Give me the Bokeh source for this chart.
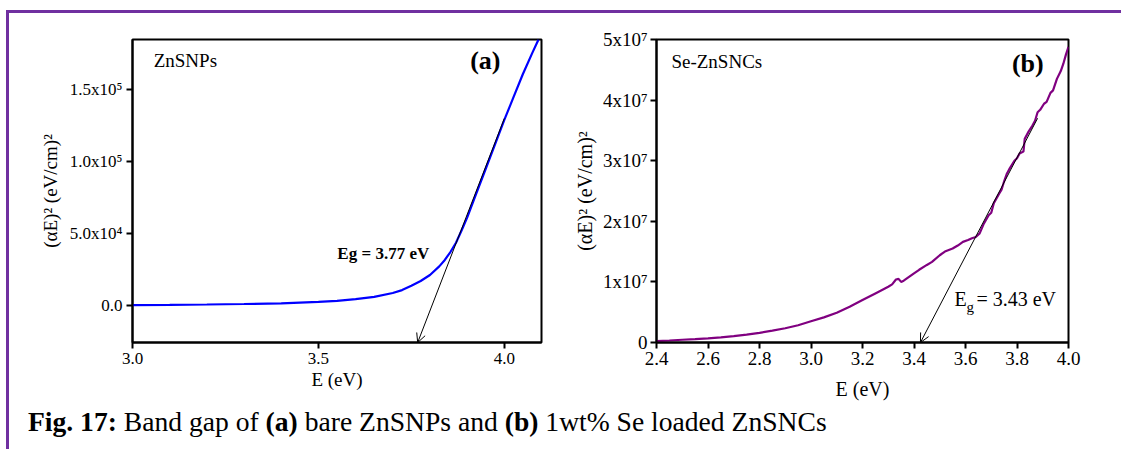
from bokeh.plotting import figure
from bokeh.models import FixedTicker, Label, Arrow, OpenHead, Div, Range1d, PrintfTickFormatter
from bokeh.layouts import row, column
from bokeh.embed import file_html
from bokeh.resources import INLINE

FONT = "Liberation Serif"
PURPLE_FRAME = "#7030A0"

# ---------------- data: panel (a) bare ZnSNPs ----------------
energy_a = [3.00, 3.10, 3.20, 3.30, 3.40, 3.50, 3.55, 3.60, 3.65, 3.70, 3.725, 3.75,
            3.775, 3.80, 3.825, 3.84, 3.855, 3.87, 3.885, 3.90, 3.925, 3.95, 3.975,
            4.00, 4.025, 4.05, 4.075, 4.092]
ahv2_a = [0, 200, 450, 800, 1300, 2300, 3000, 4200, 5800, 8500, 10500, 13500,
          16800, 21000, 27000, 31500, 37000, 43500, 52000, 61000, 78000, 95000, 112000,
          129000, 145000, 161000, 175500, 185000]
tangent_a_E = [3.767, 4.0]
tangent_a_y = [-26000, 130000]
xticks_a = [3.0, 3.5, 4.0]
yticks_a = [0, 50000, 100000, 150000]
ytick_labels_a = ["0.0", "5.0x10\u2074", "1.0x10\u2075", "1.5x10\u2075"]

# ---------------- data: panel (b) Se-ZnSNCs ----------------
energy_b = [2.40, 2.45, 2.50, 2.55, 2.60, 2.65, 2.70, 2.75, 2.80, 2.85, 2.90, 2.95,
            3.00, 3.05, 3.10, 3.15, 3.20, 3.25, 3.30, 3.315, 3.33, 3.34, 3.35, 3.36,
            3.40, 3.42, 3.45, 3.47, 3.50, 3.52, 3.55, 3.57, 3.59, 3.61, 3.625, 3.64,
            3.655, 3.67, 3.69, 3.70, 3.71, 3.73, 3.74, 3.75, 3.76, 3.77, 3.79, 3.80,
            3.81, 3.825, 3.83, 3.845, 3.86, 3.87, 3.88, 3.89, 3.905, 3.915, 3.93,
            3.94, 3.955, 3.97, 3.98, 3.99, 4.00]
ahv2_b = [0.22e6, 0.33e6, 0.45e6, 0.56e6, 0.68e6, 0.85e6, 1.05e6, 1.30e6, 1.60e6,
          1.95e6, 2.35e6, 2.85e6, 3.50e6, 4.15e6, 4.90e6, 5.90e6, 7.00e6, 8.10e6,
          9.20e6, 9.60e6, 1.04e7, 1.05e7, 1.00e7, 1.02e7, 1.14e7, 1.20e7, 1.28e7,
          1.33e7, 1.44e7, 1.50e7, 1.55e7, 1.60e7, 1.66e7, 1.69e7, 1.72e7, 1.74e7,
          1.80e7, 1.95e7, 2.10e7, 2.14e7, 2.30e7, 2.45e7, 2.52e7, 2.66e7, 2.78e7,
          2.86e7, 3.00e7, 3.04e7, 3.12e7, 3.15e7, 3.36e7, 3.48e7, 3.58e7, 3.66e7,
          3.80e7, 3.84e7, 3.94e7, 3.97e7, 4.12e7, 4.16e7, 4.35e7, 4.48e7, 4.60e7,
          4.75e7, 4.88e7]
tangent_b_E = [3.425, 3.88]
tangent_b_y = [0, 3.70e7]
xticks_b = [2.4, 2.6, 2.8, 3.0, 3.2, 3.4, 3.6, 3.8, 4.0]
yticks_b = [0, 1e7, 2e7, 3e7, 4e7, 5e7]
ytick_labels_b = ["0", "1x10\u2077", "2x10\u2077", "3x10\u2077", "4x10\u2077", "5x10\u2077"]


def style_axes(p, tick_size, label_size):
    p.xgrid.visible = False
    p.ygrid.visible = False
    p.outline_line_color = "black"
    p.outline_line_width = 2
    p.outline_line_alpha = 1
    p.background_fill_color = "white"
    p.border_fill_color = "white"
    for ax in (p.xaxis[0], p.yaxis[0]):
        ax.axis_line_width = 2
        ax.axis_line_color = "black"
        ax.major_tick_line_width = 2
        ax.major_tick_out = 6
        ax.major_tick_in = 0
        ax.minor_tick_out = 0
        ax.minor_tick_in = 0
        ax.major_label_text_font = FONT
        ax.major_label_text_font_size = tick_size
        ax.major_label_text_color = "black"
        ax.axis_label_text_font = FONT
        ax.axis_label_text_font_size = label_size
        ax.axis_label_text_font_style = "normal"
        ax.axis_label_text_color = "black"


def text_label(p, x, y, text, size, bold=False, align="left", **kw):
    p.add_layout(Label(x=x, y=y, text=text, text_font=FONT, text_font_size=size,
                       text_font_style="bold" if bold else "normal",
                       text_color="black", text_baseline="middle",
                       text_align=align, **kw))


# ---------------- panel (a) ----------------
pa = figure(width=561, height=395, title=None,
            x_range=Range1d(3.0, 4.1), y_range=Range1d(-26000, 185000),
            output_backend="svg", toolbar_location=None,
            min_border_left=123, min_border_right=29,
            min_border_top=26, min_border_bottom=66)
style_axes(pa, "17px", "19px")
pa.xaxis.ticker = FixedTicker(ticks=xticks_a, minor_ticks=[])
pa.xaxis.formatter = PrintfTickFormatter(format="%.1f")
pa.yaxis.ticker = FixedTicker(ticks=yticks_a, minor_ticks=[])
pa.yaxis.major_label_overrides = {t: s for t, s in zip(yticks_a, ytick_labels_a)}
pa.xaxis.axis_label = "E (eV)"
pa.yaxis.axis_label = "(\u03b1E)\u00b2 (eV/cm)\u00b2"
pa.xaxis.major_label_standoff = 4
pa.yaxis.major_label_standoff = 4
pa.xaxis.axis_label_standoff = 2
pa.yaxis.axis_label_standoff = 6
pa.line(energy_a, ahv2_a, line_color="#0000FF", line_width=2.2)
pa.add_layout(Arrow(end=OpenHead(size=9, line_width=1, line_color="black"),
                    x_start=tangent_a_E[1], y_start=tangent_a_y[1],
                    x_end=tangent_a_E[0], y_end=tangent_a_y[0],
                    line_color="black", line_width=1))
text_label(pa, 3.057, 170600, "ZnSNPs", "19px")
text_label(pa, 3.949, 170600, "(a)", "26px", bold=True, align="center")
text_label(pa, 3.798, 36000, "Eg = 3.77 eV", "17px", bold=True, align="right")

# ---------------- panel (b) ----------------
pb = figure(width=551, height=395, title=None,
            x_range=Range1d(2.4, 4.0), y_range=Range1d(0, 5e7),
            output_backend="svg", toolbar_location=None,
            min_border_left=83, min_border_right=53,
            min_border_top=21, min_border_bottom=66)
style_axes(pb, "19px", "20px")
pb.xaxis.ticker = FixedTicker(ticks=xticks_b, minor_ticks=[])
pb.xaxis.formatter = PrintfTickFormatter(format="%.1f")
pb.yaxis.ticker = FixedTicker(ticks=yticks_b, minor_ticks=[])
pb.yaxis.major_label_overrides = {t: s for t, s in zip(yticks_b, ytick_labels_b)}
pb.xaxis.axis_label = "E (eV)"
pb.yaxis.axis_label = "(\u03b1E)\u00b2 (eV/cm)\u00b2"
pb.xaxis.major_label_standoff = 3
pb.yaxis.major_label_standoff = 3
pb.xaxis.axis_label_standoff = 10
pb.yaxis.axis_label_standoff = 4
pb.line(energy_b, ahv2_b, line_color="#800080", line_width=2.2)
pb.add_layout(Arrow(end=OpenHead(size=9, line_width=1, line_color="black"),
                    x_start=tangent_b_E[1], y_start=tangent_b_y[1],
                    x_end=tangent_b_E[0], y_end=tangent_b_y[0],
                    line_color="black", line_width=1))
text_label(pb, 2.458, 4.63e7, "Se-ZnSNCs", "19px")
text_label(pb, 3.842, 4.61e7, "(b)", "26px", bold=True, align="center")
text_label(pb, 3.557, 7.1e6, "E", "20px")
text_label(pb, 3.557, 7.1e6, "g", "15px", x_offset=12, y_offset=-8)
text_label(pb, 3.557, 7.1e6, "= 3.43 eV", "20px", x_offset=22)

# ---------------- page decoration ----------------
caption = Div(text=("<div style=\"font-family:'Liberation Serif';font-size:27.6px;color:#000;"
                    "white-space:nowrap;padding-left:19px;line-height:28px;padding-top:0px\">"
                    "<b>Fig. 17:</b> Band gap of <b>(a)</b> bare ZnSNPs and <b>(b)</b> "
                    "1wt% Se loaded ZnSNCs</div>"),
              width=1112, height=41, margin=0)

top_space = Div(text="", width=1121, height=10, margin=0)
top_left = Div(text="", width=6, height=3, margin=0)
top_line = Div(text="", width=1115, height=3, margin=0,
               styles={"background-color": PURPLE_FRAME})
left_space = Div(text="", width=6, height=436, margin=0)
left_line = Div(text="", width=3, height=436, margin=0,
                styles={"background-color": PURPLE_FRAME})

content = column(row(pa, pb, spacing=0), caption, spacing=0)
layout = column(top_space,
                row(top_left, top_line, spacing=0),
                row(left_space, left_line, content, spacing=0),
                spacing=0)

open("out.html", "w").write(file_html(layout, INLINE))
